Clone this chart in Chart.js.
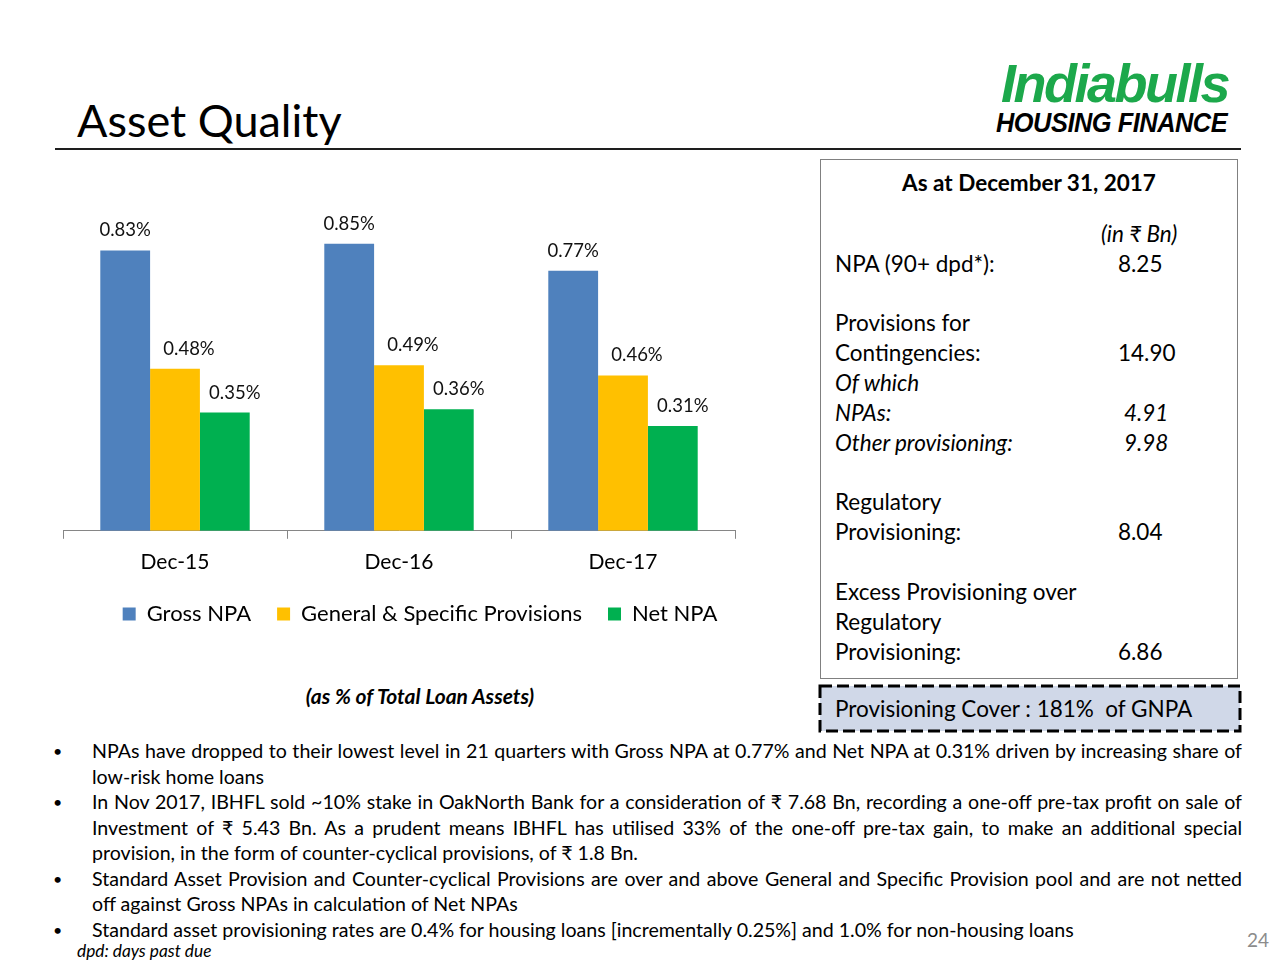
<!DOCTYPE html>
<html>
<head>
<meta charset="utf-8">
<script src="https://cdn.jsdelivr.net/npm/chart.js@4.4.1/dist/chart.umd.min.js"></script>
<style>
  body { margin: 0; width: 1280px; height: 960px; position: relative; overflow: hidden;
         background: #fff; color: #000; font-family: Lato, "Noto Sans", sans-serif; }
  .abs { position: absolute; }
  .title { left: 77px; top: 92px; font-size: 45px; line-height: 56px; }
  .rule { left: 55px; top: 148px; width: 1186px; height: 2px; background: #1e1e1e; }
  .logo-top { left: 1001px; top: 56px; font-family: "Liberation Sans", sans-serif; font-weight: bold;
              font-style: italic; font-size: 54px; line-height: 54px; color: #1ca84b; letter-spacing: -2.5px; }
  .logo-bot { left: 996px; top: 109px; font-family: "Liberation Sans", sans-serif; font-weight: bold;
              font-style: italic; font-size: 28px; line-height: 28px; letter-spacing: -0.5px;
              transform: scaleX(0.905); transform-origin: left top; }
  #chartWrap { left: 20px; top: 180px; width: 800px; height: 455px; }
  .note { left: 0; top: 683px; width: 840px; text-align: center; font-weight: bold; font-style: italic;
          font-size: 21px; line-height: 26px; }
  .box { left: 820px; top: 159px; width: 416px; height: 518px; border: 1px solid #808080; font-size: 22.5px; }
  .box .hdr { position: absolute; left: 0; width: 100%; top: 8px; text-align: center; font-weight: bold; line-height: 30px; }
  .row { position: absolute; left: 0; width: 100%; height: 30px; line-height: 30px; }
  .row .l { position: absolute; left: 14px; }
  .row .v { position: absolute; left: 297px; }
  .it { font-style: italic; }
  .cover { left: 818px; top: 684px; width: 424px; height: 49px; }
  .cover-text { left: 835px; top: 694px; font-size: 22.5px; line-height: 30px; }
  .bullets { left: 0; top: 738px; width: 1280px; font-size: 19.6px; line-height: 25.5px; }
  .bl { position: relative; height: 25.5px; }
  .bl .dot { position: absolute; left: 53px; font-size: 16px; }
  .bl .tx { position: absolute; left: 92px; width: 1150px; white-space: nowrap; }
  .bl .just { text-align: justify; text-align-last: justify; }
  .foot { left: 77px; top: 940px; font-size: 17.3px; font-style: italic; line-height: 22px; }
  .page { left: 1247px; top: 928px; font-size: 19px; color: #8c8c8c; line-height: 24px; }
</style>
</head>
<body>
<div class="abs title">Asset Quality</div>
<div class="abs rule"></div>
<div class="abs logo-top">Indiabulls</div>
<div class="abs logo-bot">HOUSING FINANCE</div>

<div class="abs" id="chartWrap"><canvas id="npaChart"></canvas></div>
<div class="abs note">(as % of Total Loan Assets)</div>

<div class="abs box">
  <div class="hdr">As at December 31, 2017</div>
  <div class="row" style="top:59px"><span class="v it" style="left:280px">(in ₹ Bn)</span></div>
  <div class="row" style="top:89px"><span class="l">NPA (90+ dpd*):</span><span class="v">8.25</span></div>
  <div class="row" style="top:148px"><span class="l">Provisions for</span></div>
  <div class="row" style="top:178px"><span class="l">Contingencies:</span><span class="v">14.90</span></div>
  <div class="row" style="top:208px"><span class="l it">Of which</span></div>
  <div class="row" style="top:238px"><span class="l it">NPAs:</span><span class="v it" style="left:303px">4.91</span></div>
  <div class="row" style="top:268px"><span class="l it">Other provisioning:</span><span class="v it" style="left:303px">9.98</span></div>
  <div class="row" style="top:327px"><span class="l">Regulatory</span></div>
  <div class="row" style="top:357px"><span class="l">Provisioning:</span><span class="v">8.04</span></div>
  <div class="row" style="top:417px"><span class="l">Excess Provisioning over</span></div>
  <div class="row" style="top:447px"><span class="l">Regulatory</span></div>
  <div class="row" style="top:477px"><span class="l">Provisioning:</span><span class="v">6.86</span></div>
</div>

<svg class="abs cover" width="424" height="49">
  <rect x="2" y="2" width="420" height="45" fill="#d0d8e8" stroke="#000" stroke-width="3" stroke-dasharray="12 5"></rect>
</svg>
<div class="abs cover-text">Provisioning Cover : 181%&nbsp; of GNPA</div>

<div class="abs bullets">
  <div class="bl"><span class="dot">•</span><span class="tx just">NPAs have dropped to their lowest level in 21 quarters with Gross NPA at 0.77% and Net NPA at 0.31% driven by increasing share of</span></div>
  <div class="bl"><span class="tx">low-risk home loans</span></div>
  <div class="bl"><span class="dot">•</span><span class="tx just">In Nov 2017, IBHFL sold ~10% stake in OakNorth Bank for a consideration of ₹ 7.68 Bn, recording a one-off pre-tax profit on sale of</span></div>
  <div class="bl"><span class="tx just">Investment of ₹ 5.43 Bn. As a prudent means IBHFL has utilised 33% of the one-off pre-tax gain, to make an additional special</span></div>
  <div class="bl"><span class="tx">provision, in the form of counter-cyclical provisions, of ₹ 1.8 Bn.</span></div>
  <div class="bl"><span class="dot">•</span><span class="tx just">Standard Asset Provision and Counter-cyclical Provisions are over and above General and Specific Provision pool and are not netted</span></div>
  <div class="bl"><span class="tx">off against Gross NPAs in calculation of Net NPAs</span></div>
  <div class="bl"><span class="dot">•</span><span class="tx">Standard asset provisioning rates are 0.4% for housing loans [incrementally 0.25%] and 1.0% for non-housing loans</span></div>
</div>
<div class="abs foot">dpd: days past due</div>
<div class="abs page">24</div>

<script>
const categories = ["Dec-15", "Dec-16", "Dec-17"];
const seriesNames = ["Gross NPA", "General & Specific Provisions", "Net NPA"];
const grossNpa = [0.83, 0.85, 0.77];
const provisions = [0.48, 0.49, 0.46];
const netNpa = [0.35, 0.36, 0.31];

const blue = "#4f81bd";
const yellow = "#ffc000";
const green = "#00b050";
const axisGray = "#868686";
const fontFamily = "Lato, 'Noto Sans', sans-serif";

// value labels sit above each bar, nudged a little to the right for the 2nd/3rd series
const labelShift = [0, 14, 10];

const barLabels = {
  id: "barLabels",
  afterDatasetsDraw(chart) {
    const ctx = chart.ctx;
    ctx.save();
    ctx.font = `18.5px ${fontFamily}`;
    ctx.fillStyle = "#111";
    ctx.textAlign = "center";
    ctx.textBaseline = "middle";
    chart.data.datasets.forEach((ds, i) => {
      const meta = chart.getDatasetMeta(i);
      meta.data.forEach((bar, j) => {
        ctx.fillText(`${ds.data[j].toFixed(2)}%`, bar.x + labelShift[i], bar.y - 20);
      });
    });
    ctx.restore();
  },
};

function dataset(label, data, color) {
  return {
    label,
    data,
    backgroundColor: color,
    borderWidth: 0,
    barPercentage: 1,
    categoryPercentage: 0.667,
  };
}

// invisible side axes just reserve room, so the legend stays centred on the whole canvas
function spacerAxis(position, width) {
  return {
    position,
    min: 0,
    max: 1,
    grid: { display: false },
    border: { display: false },
    ticks: { display: false },
    afterFit(scale) {
      scale.width = width;
    },
  };
}

new Chart(document.getElementById("npaChart"), {
  type: "bar",
  data: {
    labels: categories,
    datasets: [
      dataset(seriesNames[0], grossNpa, blue),
      dataset(seriesNames[1], provisions, yellow),
      dataset(seriesNames[2], netNpa, green),
    ],
  },
  options: {
    responsive: true,
    maintainAspectRatio: false,
    animation: false,
    layout: { padding: { left: 0, right: 0, top: 13, bottom: 0 } },
    plugins: {
      tooltip: { enabled: false },
      legend: {
        position: "bottom",
        labels: {
          boxWidth: 13,
          boxHeight: 13,
          padding: 26,
          color: "#000",
          font: { family: fontFamily, size: 22 },
        },
      },
    },
    scales: {
      y: spacerAxis("left", 43),
      yRight: spacerAxis("right", 85),
      x: {
        border: { color: axisGray, width: 1 },
        grid: { drawOnChartArea: false, drawTicks: true, tickLength: 8, color: axisGray },
        ticks: { color: "#000", padding: 11, font: { family: fontFamily, size: 21 } },
        // pull the legend a bit closer to the category labels
        afterFit(scale) {
          scale.height -= 9;
        },
      },
    },
  },
  plugins: [barLabels],
});
</script>
</body>
</html>
